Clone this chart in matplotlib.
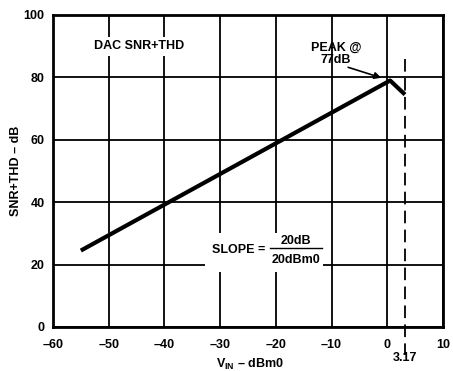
import matplotlib.pyplot as plt
from matplotlib.patches import Rectangle

plt.rcParams['font.family'] = ['Liberation Sans', 'DejaVu Sans']
plt.rcParams['font.weight'] = 'bold'
plt.rcParams['mathtext.fontset'] = 'custom'
plt.rcParams['mathtext.rm'] = 'Liberation Sans:bold'
plt.rcParams['mathtext.bf'] = 'Liberation Sans:bold'

# SNR+THD curve
vin = [-55, 0.5, 3.17]
snr = [24.5, 79, 74.5]

x_ticks = [-60, -50, -40, -30, -20, -10, 0, 10]
y_ticks = [0, 20, 40, 60, 80, 100]
v_max = 3.17

fs = 9

fig = plt.figure(figsize=(4.53, 3.71), dpi=100)
ax = fig.add_axes([0.117, 0.1186, 0.861, 0.841])

ax.set_xlim(-60, 10)
ax.set_ylim(0, 100)
ax.set_xticks(x_ticks)
ax.set_yticks(y_ticks)
ax.set_xticklabels(['\u201360', '\u201350', '\u201340', '\u201330', '\u201320', '\u201310', '0', '10'])
ax.tick_params(length=0, labelsize=fs)
ax.tick_params(axis='x', pad=9)
ax.tick_params(axis='y', pad=6)
for lab in ax.get_xticklabels() + ax.get_yticklabels():
    lab.set_fontweight('bold')

ax.grid(True, color='black', linewidth=1.3)
ax.set_axisbelow(True)
for s in ax.spines.values():
    s.set_linewidth(2)

# white space behind the text blocks
ax.add_patch(Rectangle((-32.7, 17.6), 21.2, 12.6, facecolor='white', edgecolor='none', zorder=1.5))
ax.add_patch(Rectangle((-54, 87), 19, 6, facecolor='white', edgecolor='none', zorder=1.5))

ax.plot(vin, snr, color='black', linewidth=3, solid_capstyle='butt', zorder=3)

# dashed limit line at 3.17
ax.plot([v_max, v_max], [86, -9], color='black', linewidth=1.3, dashes=(7, 3.5), clip_on=False, zorder=2)
ax.text(v_max, -0.098, '3.17', transform=ax.get_xaxis_transform(), ha='center', va='center',
        fontsize=fs, fontweight='bold')

ax.text(-44.5, 90, 'DAC SNR+THD', ha='center', va='center', fontsize=fs, fontweight='bold', zorder=4)
ax.text(-9.2, 87.5, 'PEAK @\n77dB', ha='center', va='center', fontsize=fs, fontweight='bold',
        linespacing=0.95, zorder=4)
ax.annotate('', xy=(-0.6, 79.6), xytext=(-7.5, 83.5),
            arrowprops=dict(arrowstyle='-|>', color='black', lw=1.2, mutation_scale=10), zorder=4)

ax.text(-26.7, 24.6, 'SLOPE =', ha='center', va='center', fontsize=fs, fontweight='bold', zorder=4)
ax.text(-16.4, 27.6, '20dB', ha='center', va='center', fontsize=fs, fontweight='bold', zorder=4)
ax.text(-16.4, 21.4, '20dBm0', ha='center', va='center', fontsize=fs, fontweight='bold', zorder=4)
ax.plot([-21.0, -11.8], [25.2, 25.2], color='black', linewidth=1, zorder=4)

ax.set_ylabel('SNR+THD \u2013 dB', fontsize=fs, fontweight='bold', labelpad=1)
fig.text(250 / 453, 1 - 364 / 371, 'V$_{\\mathbf{IN}}$ \u2013 dBm0', ha='center', va='center',
         fontsize=fs, fontweight='bold')

fig.savefig('out.png', dpi=100)
